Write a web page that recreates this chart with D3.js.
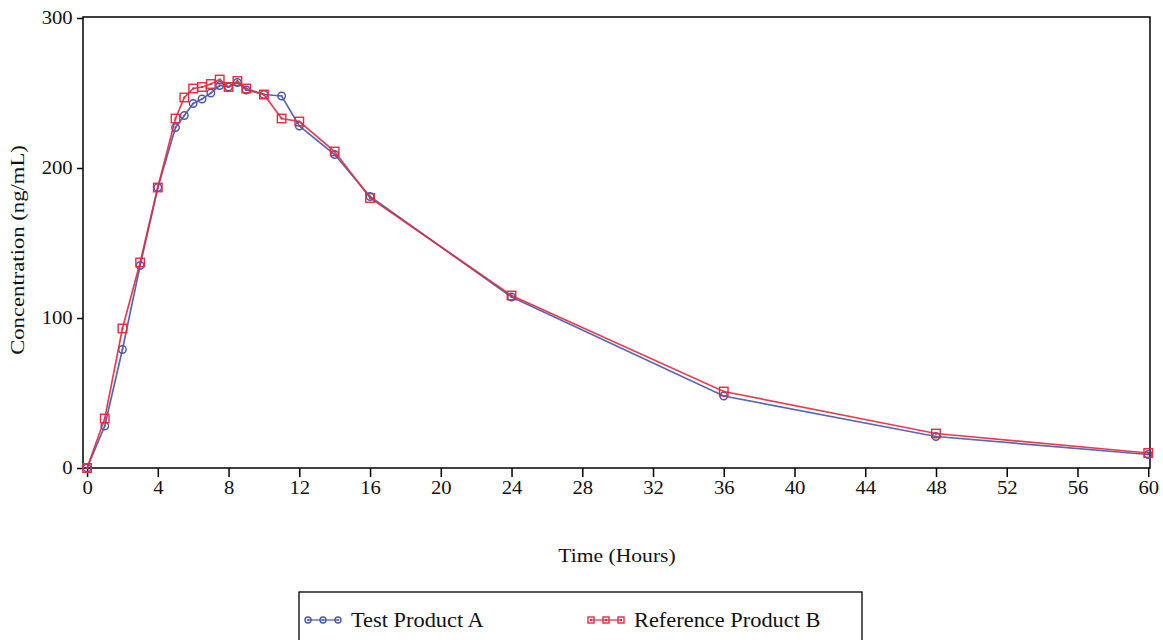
<!DOCTYPE html>
<html>
<head>
<meta charset="utf-8">
<script src="https://cdn.jsdelivr.net/npm/d3@7"></script>
<style>
  body { margin: 0; background: #fff; }
  svg { display: block; font-family: "Liberation Serif", "Times New Roman", serif; }
  svg text { font-family: "Liberation Serif", "Times New Roman", serif; }
</style>
</head>
<body>
<svg id="chart" width="1163" height="640"></svg>
<script>
const times = [0, 1, 2, 3, 4, 5, 5.5, 6, 6.5, 7, 7.5, 8, 8.5, 9, 10, 11, 12, 14, 16, 24, 36, 48, 60]
const testA = [0, 28, 79, 135, 187, 227, 235, 243, 246, 250, 255, 254, 257, 252, 249, 248, 228, 209, 181, 114, 48, 21, 9]
const refB = [0, 33, 93, 137, 187, 233, 247, 253, 254, 256, 259, 254, 258, 253, 249, 233, 231, 211, 180, 115, 51, 23, 10]
const xTicks = d3.range(0, 61, 4)
const yTicks = [0, 100, 200, 300]
const seriesNames = ['Test Product A', 'Reference Product B']

const blue = '#4858a8', red = '#e22a40'
const stretch = 1.15

const svg = d3.select('#chart')
const plotL = 83, plotR = 1150, plotT = 17, plotB = 468

const x = d3.scaleLinear().domain([-0.23, 60.1]).range([plotL, plotR])
const y = d3.scaleLinear().domain([0, 300]).range([plotB, 18])

// frame
svg.append('rect')
    .attr('x', plotL).attr('y', plotT)
    .attr('width', plotR - plotL).attr('height', plotB - plotT)
    .attr('fill', 'none').attr('stroke', '#000').attr('stroke-width', 1.5)

// x axis
let xAxis = svg.append('g')
    .attr('transform', 'translate(0,' + plotB + ')')
    .call(d3.axisBottom(x).tickValues(xTicks).tickSize(9).tickPadding(4).tickFormat(d3.format('d')))
xAxis.attr('font-family', null)
xAxis.select('.domain').remove()
xAxis.selectAll('line').attr('stroke', '#000').attr('stroke-width', 1.5)
xAxis.selectAll('text').style('font-size', '18px').attr('fill', '#111')
    .attr('transform', 'scale(' + stretch + ',1)')

// y axis
let yAxis = svg.append('g')
    .attr('transform', 'translate(' + plotL + ',0)')
    .call(d3.axisLeft(y).tickValues(yTicks).tickSize(6).tickPadding(3))
yAxis.attr('font-family', null)
yAxis.select('.domain').remove()
yAxis.selectAll('line').attr('stroke', '#000').attr('stroke-width', 1.5)
yAxis.selectAll('text').style('font-size', '18px').attr('fill', '#111')
    .attr('transform', 'scale(' + stretch + ',1)')

svg.append('text')
    .attr('transform', 'translate(617,562) scale(1.2,1)')
    .attr('text-anchor', 'middle')
    .style('font-size', '18px')
    .attr('fill', '#111')
    .text('Time (Hours)')

svg.append('text')
    .attr('transform', 'translate(24,250) rotate(-90) scale(1.26,1)')
    .attr('text-anchor', 'middle')
    .style('font-size', '18px')
    .attr('fill', '#111')
    .text('Concentration (ng/mL)')

let line = d3.line()
    .x(d => x(d[0]))
    .y(d => y(d[1]))

const series = [
    { name: seriesNames[0], color: blue, shape: 'circle', pts: times.map((t, i) => [t, testA[i]]) },
    { name: seriesNames[1], color: red, shape: 'square', pts: times.map((t, i) => [t, refB[i]]) }
]

function marker(g, shape, color, cx, cy, s) {
    if (shape === 'circle') {
        g.append('circle').attr('cx', cx).attr('cy', cy).attr('r', s / 2)
            .attr('fill', 'none').attr('stroke', color).attr('stroke-width', 1.4)
        g.append('circle').attr('cx', cx).attr('cy', cy).attr('r', 0.9).attr('fill', color)
    } else {
        g.append('rect').attr('x', cx - s / 2).attr('y', cy - s / 2)
            .attr('width', s).attr('height', s)
            .attr('fill', 'none').attr('stroke', color).attr('stroke-width', 1.4)
        g.append('rect').attr('x', cx - 1).attr('y', cy - 1).attr('width', 2).attr('height', 2)
            .attr('fill', color)
    }
}

series.forEach(s => {
    svg.append('path')
        .datum(s.pts)
        .attr('d', line)
        .attr('fill', 'none')
        .attr('stroke', s.color)
        .attr('stroke-width', 1.7)
        .attr('opacity', 0.9)
    let mg = svg.append('g')
    s.pts.forEach(p => marker(mg, s.shape, s.color, x(p[0]), y(p[1]), s.shape === 'circle' ? 7.5 : 8.5))
})

// legend
svg.append('rect')
    .attr('x', 299).attr('y', 592)
    .attr('width', 563).attr('height', 60)
    .attr('fill', 'none').attr('stroke', '#000').attr('stroke-width', 1.3)

const legendX = [305, 588]
series.forEach((s, i) => {
    let g = svg.append('g').attr('transform', 'translate(' + legendX[i] + ',620)')
    g.append('line').attr('x1', 2).attr('x2', 34).attr('y1', 0).attr('y2', 0)
        .attr('stroke', s.color).attr('stroke-width', 1.2)
    ;[3, 18, 33].forEach(cx => marker(g, s.shape, s.color, cx, 0, 6))
    g.append('text')
        .attr('transform', 'translate(46,7) scale(1.12,1)')
        .style('font-size', '20px')
        .attr('fill', '#111')
        .text(s.name)
})
</script>
</body>
</html>
